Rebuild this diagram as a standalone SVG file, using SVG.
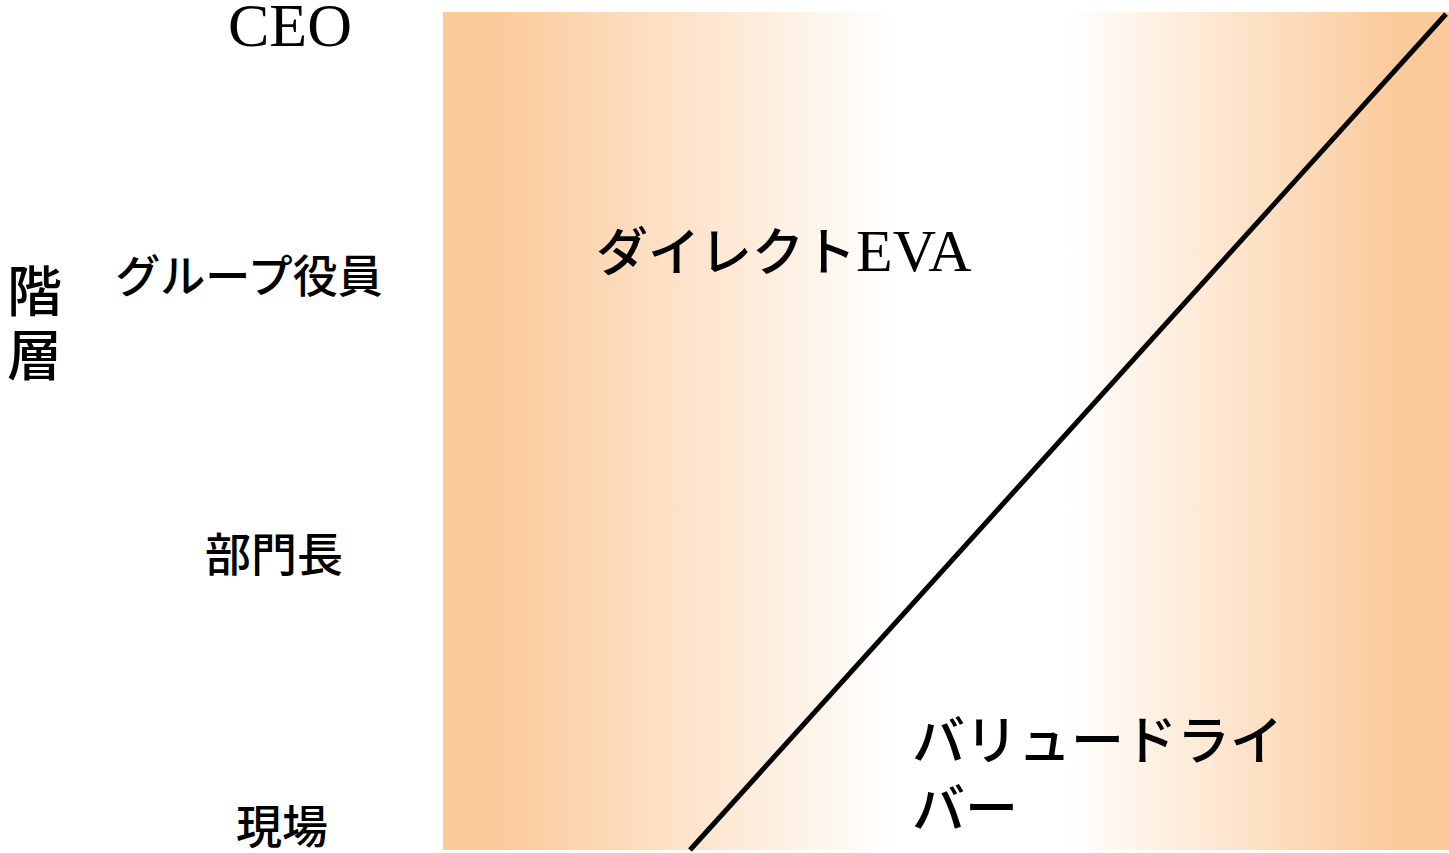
<svg xmlns="http://www.w3.org/2000/svg" width="1449" height="853" viewBox="0 0 1449 853">
<style>
.jp{font-family:"Noto Sans CJK JP","Noto Sans",sans-serif;font-weight:500;fill:#000}
.en{font-family:"Liberation Serif",serif;fill:#000}
</style>
<defs>
<linearGradient id="bg" x1="0" y1="0" x2="1" y2="0">
<stop offset="0" stop-color="#FBCA9A"/>
<stop offset="0.05" stop-color="#FBCA9A"/>
<stop offset="0.45" stop-color="#FFFFFF"/>
<stop offset="0.62" stop-color="#FFFFFF"/>
<stop offset="0.95" stop-color="#FBCA9A"/>
<stop offset="1" stop-color="#FBCA9A"/>
</linearGradient>
</defs>
<g id="area"><rect x="443" y="12" width="1006" height="838" fill="url(#bg)"/></g>
<g id="connectors"><line x1="690" y1="850" x2="1446" y2="14" stroke="#000" stroke-width="5"/></g>
<g id="axis"><text class="jp" x="7" y="311" font-size="55">階</text><text class="jp" x="7" y="375" font-size="55">層</text></g>
<g id="ceo"><text class="en" x="290" y="46" font-size="62" text-anchor="middle">CEO</text></g>
<g id="group"><text class="jp" x="249" y="293" font-size="45" text-anchor="middle">グループ役員</text></g>
<g id="dept"><text class="jp" x="274" y="571" font-size="46" text-anchor="middle">部門長</text></g>
<g id="field"><text class="jp" x="282" y="843" font-size="46" text-anchor="middle">現場</text></g>
<g id="direct"><text x="596" y="271" font-size="52"><tspan class="jp">ダイレクト</tspan><tspan class="en" font-size="60">EVA</tspan></text></g>
<g id="driver"><text class="jp" x="912" y="760" font-size="53">バリュードライ</text><text class="jp" x="912" y="828" font-size="53">バー</text></g>
</svg>
